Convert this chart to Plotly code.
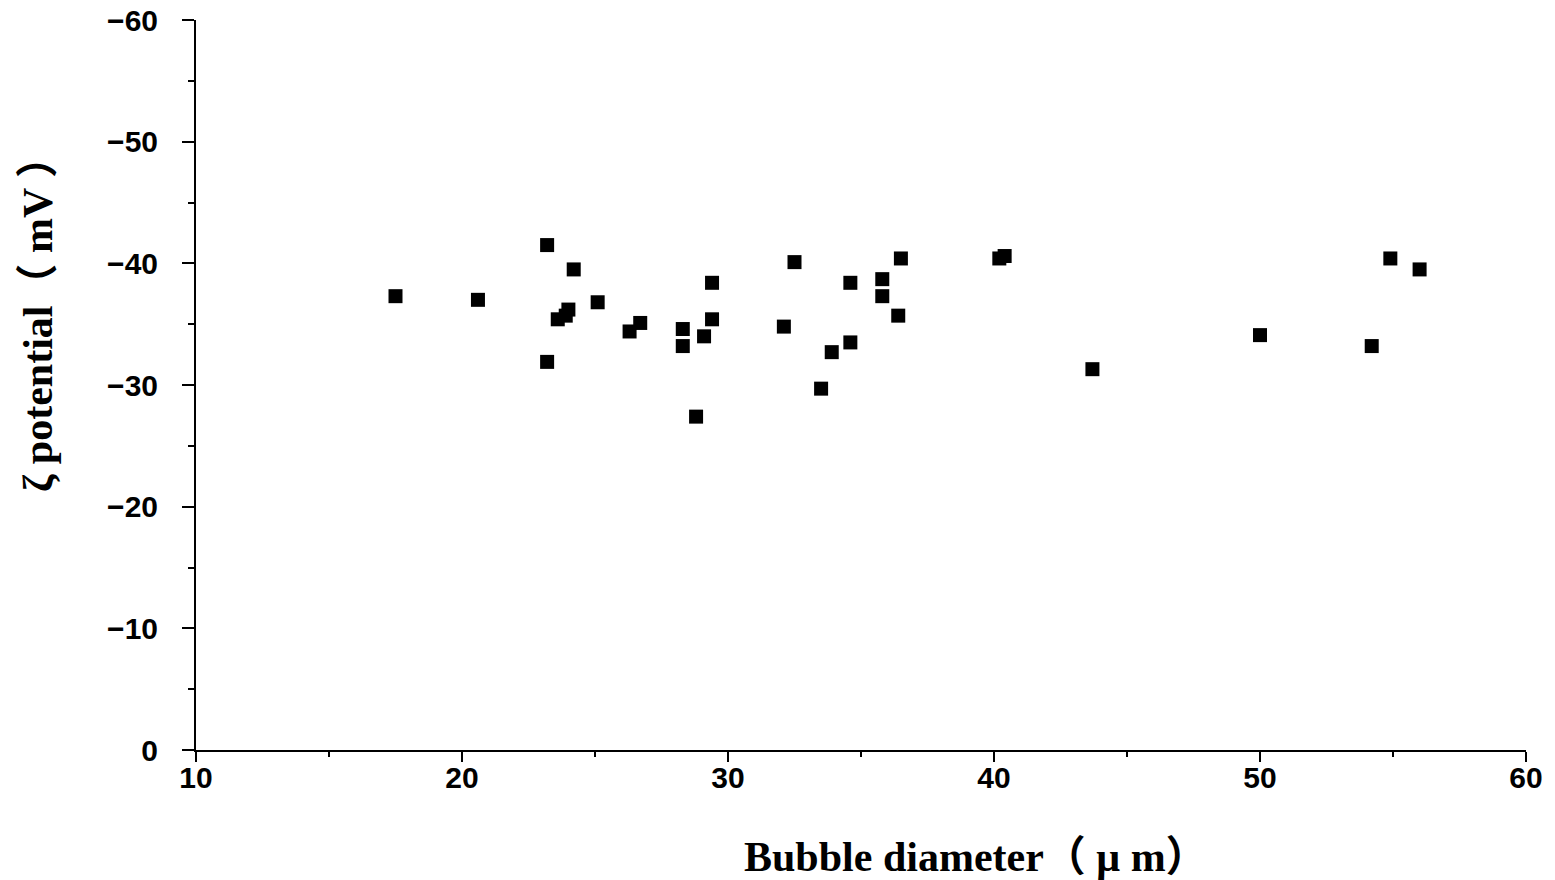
import plotly.graph_objects as go

# Bubble diameter (μm)
diameter = [17.5, 20.6, 23.2, 23.2, 24.2, 23.6, 24.0, 23.9, 25.1, 26.3, 26.7,
            28.3, 28.3, 28.8, 29.1, 29.4, 29.4, 32.5, 32.1, 33.5, 33.9, 34.6,
            34.6, 35.8, 35.8, 36.4, 36.5, 40.2, 40.4, 43.7, 50.0, 54.2, 54.9, 56.0]
# Zeta potential (mV)
zeta = [-37.3, -37.0, -41.5, -31.9, -39.5, -35.4, -36.2, -35.7, -36.8, -34.4, -35.1,
        -34.6, -33.2, -27.4, -34.0, -38.4, -35.4, -40.1, -34.8, -29.7, -32.7, -33.5,
        -38.4, -38.7, -37.3, -35.7, -40.4, -40.4, -40.6, -31.3, -34.1, -33.2, -40.4, -39.5]

x_ticks = [10, 20, 30, 40, 50, 60]
y_ticks = [0, -10, -20, -30, -40, -50, -60]

fig = go.Figure()
fig.add_trace(go.Scatter(
    x=diameter, y=zeta, mode="markers",
    marker=dict(symbol="square", size=14, color="black", line=dict(width=0)),
    showlegend=False,
))

tick_font = dict(family="Liberation Sans", size=30, color="black", weight="bold")
title_font = dict(family="Liberation Serif, Noto Sans CJK JP", size=42, color="black")

fig.update_layout(
    width=1555, height=880,
    margin=dict(l=196, r=29, t=20, b=130),
    paper_bgcolor="white", plot_bgcolor="white",
    xaxis=dict(
        range=[10, 60], tickvals=x_ticks, ticks="outside", ticklen=10, tickwidth=2,
        tickcolor="black", showline=True, linecolor="black", linewidth=2,
        showgrid=False, zeroline=False, tickfont=tick_font, automargin=False,
        ticklabelstandoff=-10,
        minor=dict(dtick=5, tick0=10, ticks="outside", ticklen=5, tickwidth=2, tickcolor="black", showgrid=False),
    ),
    yaxis=dict(
        range=[0, -60], tickvals=y_ticks, ticks="outside", ticklen=12, tickwidth=2,
        tickcolor="black", showline=True, linecolor="black", linewidth=2,
        showgrid=False, zeroline=False, tickfont=tick_font, automargin=False,
        ticklabelstandoff=18,
        minor=dict(dtick=5, tick0=0, ticks="outside", ticklen=6, tickwidth=2, tickcolor="black", showgrid=False),
    ),
    annotations=[
        dict(text="<b>Bubble diameter（ μ m）</b>", xref="paper", yref="paper",
             x=(976 - 196) / 1330, y=-(857 - 750) / 730, xanchor="center", yanchor="middle",
             showarrow=False, font=title_font),
        dict(text="<b>ζ potential（ mV ）</b>", xref="paper", yref="paper",
             x=-(196 - 38) / 1330, y=(750 - 314) / 730, xanchor="center", yanchor="middle",
             textangle=-90, showarrow=False, font=title_font),
    ],
)

fig.write_html("out.html")
